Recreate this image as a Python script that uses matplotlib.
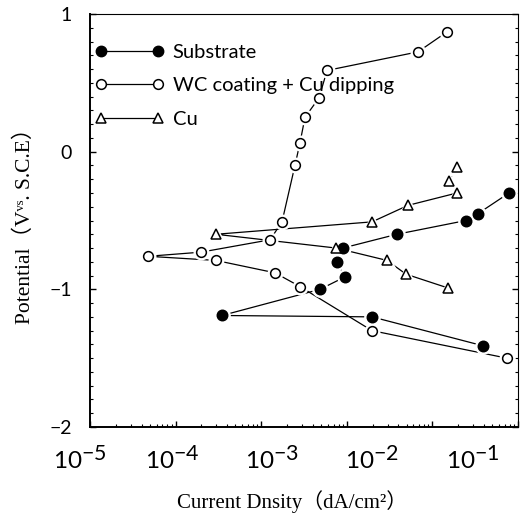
import matplotlib
matplotlib.use("Agg")
import matplotlib.pyplot as plt
import matplotlib._mathtext as _mt
from matplotlib.lines import Line2D
from matplotlib.ticker import LogLocator, MultipleLocator, NullFormatter, FixedLocator

# ---------------- data ----------------
sub_x = [0.390, 0.0197, 3.48e-4, 4.86e-3, 9.5e-3, 7.7e-3, 9.0e-3, 0.0385, 0.247, 0.341, 0.785]
sub_y = [-1.41, -1.20, -1.19, -1.00, -0.91, -0.80, -0.70, -0.60, -0.50, -0.45, -0.30]

wc_x = [0.743, 0.0197, 2.84e-3, 1.45e-3, 2.96e-4, 4.76e-5, 1.98e-4, 1.27e-3, 1.75e-3,
        2.48e-3, 2.84e-3, 3.25e-3, 4.73e-3, 5.88e-3, 0.0679, 0.148]
wc_y = [-1.50, -1.30, -0.98, -0.88, -0.79, -0.76, -0.73, -0.64, -0.51,
        -0.10, 0.065, 0.25, 0.39, 0.59, 0.725, 0.87]

cu_x = [0.152, 0.0492, 0.0295, 7.48e-3, 2.96e-4, 0.0197, 0.0519, 0.194, 0.156, 0.194]
cu_y = [-0.99, -0.89, -0.79, -0.70, -0.60, -0.51, -0.39, -0.30, -0.21, -0.11]

series_labels = ["Substrate", "WC coating + Cu dipping", "Cu"]

xtick_vals = [1e-5, 1e-4, 1e-3, 1e-2, 1e-1]
xtick_labels = [r"$\mathregular{10^{-5}}$", r"$\mathregular{10^{-4}}$", r"$\mathregular{10^{-3}}$",
                r"$\mathregular{10^{-2}}$", r"$\mathregular{10^{-1}}$"]
ytick_vals = [-2, -1, 0, 1]
ytick_labels = ["\u22122", "\u22121", "0", "1"]

xlabel = "Current Dnsity\uff08dA/cm\u00b2\uff09"
ylabel = "Potential\uff08V\u1d5b\u02e2. S.C.E\uff09"

# ---------------- style ----------------
plt.rcParams["font.family"] = ["Lato", "DejaVu Sans"]
plt.rcParams["font.weight"] = "normal"
plt.rcParams["text.color"] = "black"
_mt.SHRINK_FACTOR = 0.88  # larger exponents, as in the source

serif = ["Liberation Serif", "DejaVu Serif", "Noto Sans CJK SC"]

fig = plt.figure(figsize=(5.27, 5.18), dpi=100)
ax = fig.add_axes([90 / 527, 91 / 518, 428 / 527, 413 / 518])
ax.set_xscale("log")
ax.set_xlim(1e-5, 1)
ax.set_ylim(-2, 1)


def draw(x, y, marker, filled, ms):
    ax.plot(x, y, "-", color="k", lw=0.9, zorder=2)
    ax.plot(x, y, ls="none", marker=marker, ms=ms + 3.5, mfc="white", mec="white", zorder=3)
    ax.plot(x, y, ls="none", marker=marker, ms=ms, mfc="k" if filled else "white",
            mec="k", mew=1.1, zorder=4)


draw(sub_x, sub_y, "o", True, 7.5)
draw(wc_x, wc_y, "o", False, 7.0)
draw(cu_x, cu_y, "^", False, 7.5)

# ticks
ax.xaxis.set_major_locator(FixedLocator(xtick_vals + [1.0]))
ax.xaxis.set_major_formatter(NullFormatter())
ax.xaxis.set_minor_locator(LogLocator(base=10, subs=range(2, 10)))
ax.xaxis.set_minor_formatter(NullFormatter())
ax.set_yticks(ytick_vals)
ax.set_yticklabels(ytick_labels)
ax.yaxis.set_minor_locator(MultipleLocator(0.1))
ax.tick_params(which="both", direction="in", top=False, right=True, color="k",
               labelcolor="black")
ax.tick_params(which="major", length=4.5, width=1.0)
ax.tick_params(which="minor", length=2.5, width=0.8)
ax.tick_params(axis="y", labelsize=14, pad=13)

for s in ["left", "bottom"]:
    ax.spines[s].set_linewidth(1.4)
for s in ["top", "right"]:
    ax.spines[s].set_linewidth(0.8)

# x tick labels (shifted as in the source figure)
label_shift_pt = [-7.2, -2.6, 7.8, 18.1, 29.2]
for v, lab, dx in zip(xtick_vals, xtick_labels, label_shift_pt):
    ax.annotate(lab, xy=(v, 0), xycoords=("data", "axes fraction"),
                xytext=(dx, -13.5), textcoords="offset points",
                ha="center", va="top", fontsize=17.5, color="black",
                annotation_clip=False)

ax.set_xlabel(xlabel, fontsize=15, family=serif,
              fontweight="normal", va="center", color="black")
ax.xaxis.set_label_coords(0.472, -0.18)
ax.set_ylabel(ylabel, fontsize=15.5, family=serif,
              fontweight="normal", va="center", color="black")
ax.yaxis.set_label_coords(-0.152, 0.50)

# legend
handles = [
    Line2D([], [], color="k", lw=0.9, marker="o", ms=7.5, mfc="k", mec="k"),
    Line2D([], [], color="k", lw=0.9, marker="o", ms=7.0, mfc="white", mec="k", mew=1.1),
    Line2D([], [], color="k", lw=0.9, marker="^", ms=7.5, mfc="white", mec="k", mew=1.1),
]
leg = ax.legend(handles, series_labels, loc="upper left", bbox_to_anchor=(0.012, 0.927),
                frameon=False, numpoints=2, handlelength=3.4, handletextpad=0.45,
                labelspacing=0.8, borderaxespad=0, borderpad=0,
                prop={"size": 14.5, "weight": "normal"})
for t in leg.get_texts():
    t.set_color("black")

fig.savefig("out.png", dpi=100)
